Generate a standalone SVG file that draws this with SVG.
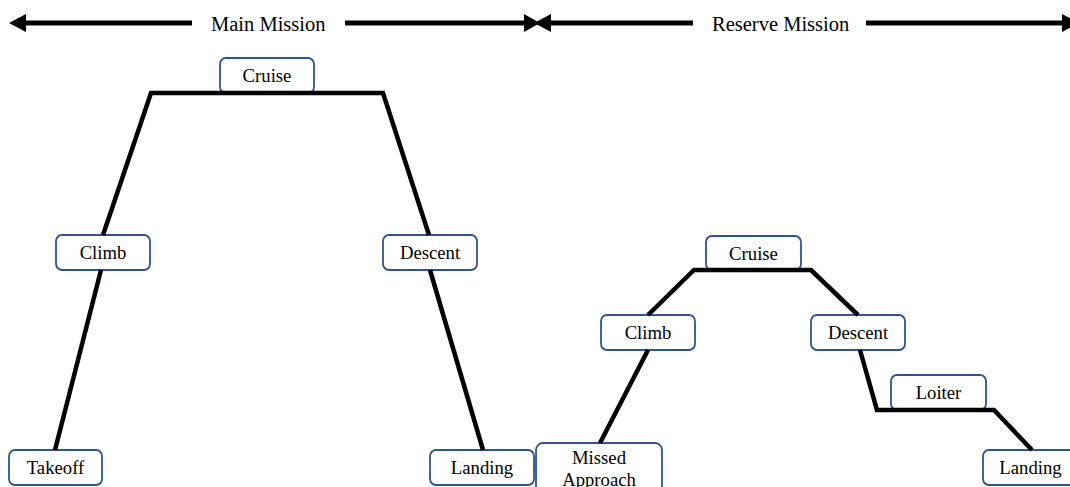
<svg xmlns="http://www.w3.org/2000/svg" width="1070" height="487" viewBox="0 0 1070 487">
<style>
.box{fill:#fff;stroke:#2F5496;stroke-width:1.8}
.lbl{font-family:"Liberation Serif","Times New Roman",serif;font-size:18.7px;fill:#000;text-anchor:middle}
.hdr{font-family:"Liberation Serif","Times New Roman",serif;font-size:20.5px;fill:#000}
.path{fill:none;stroke:#000;stroke-width:4.5;stroke-linejoin:miter}
.shaft{stroke:#000;stroke-width:5}
</style>
<rect width="1070" height="487" fill="#fff"/>
<g id="headers">
  <line class="shaft" x1="24" y1="23" x2="192" y2="23"/>
  <polygon points="9,23 26,14 26,32" fill="#000"/>
  <line class="shaft" x1="345" y1="23" x2="526" y2="23"/>
  <polygon points="540,23 524,14 524,32" fill="#000"/>
  <text class="hdr" x="211" y="31">Main Mission</text>
  <line class="shaft" x1="548" y1="23" x2="693" y2="23"/>
  <polygon points="534,23 551,14 551,32" fill="#000"/>
  <line class="shaft" x1="866" y1="23" x2="1064" y2="23"/>
  <polygon points="1079,23 1062,14 1062,32" fill="#000"/>
  <text class="hdr" x="712" y="31">Reserve Mission</text>
</g>
<g id="n-cruise-main"><rect class="box" x="220" y="58" width="94" height="35" rx="6"/><text class="lbl" x="267" y="82">Cruise</text></g>
<g id="n-climb-main"><rect class="box" x="56" y="235" width="94" height="35" rx="6"/><text class="lbl" x="103" y="259">Climb</text></g>
<g id="n-descent-main"><rect class="box" x="383" y="235" width="94" height="35" rx="6"/><text class="lbl" x="430" y="259">Descent</text></g>
<g id="n-takeoff"><rect class="box" x="9" y="450" width="93" height="35" rx="6"/><text class="lbl" x="55.5" y="474">Takeoff</text></g>
<g id="n-landing-main"><rect class="box" x="430" y="450" width="104" height="35" rx="6"/><text class="lbl" x="482" y="474">Landing</text></g>
<g id="n-missed"><rect class="box" x="536" y="443" width="126" height="56" rx="7"/><text class="lbl" x="599" y="464">Missed</text><text class="lbl" x="599" y="486">Approach</text></g>
<g id="n-cruise-res"><rect class="box" x="706" y="236" width="95" height="34" rx="6"/><text class="lbl" x="753.5" y="259.5">Cruise</text></g>
<g id="n-climb-res"><rect class="box" x="601" y="315" width="94" height="35" rx="6"/><text class="lbl" x="648" y="339">Climb</text></g>
<g id="n-descent-res"><rect class="box" x="811" y="315" width="94" height="35" rx="6"/><text class="lbl" x="858" y="339">Descent</text></g>
<g id="n-loiter"><rect class="box" x="891" y="375" width="95" height="35" rx="6"/><text class="lbl" x="938.5" y="399">Loiter</text></g>
<g id="n-landing-res"><rect class="box" x="983" y="450" width="95" height="35" rx="6"/><text class="lbl" x="1030.5" y="474">Landing</text></g>
<g id="connectors">
  <polyline class="path" points="103,235 151,93 383,93 429,235"/>
  <line class="path" x1="101" y1="270" x2="55" y2="450"/>
  <line class="path" x1="430" y1="270" x2="483" y2="450"/>
  <polyline class="path" points="648,315 694,270 811,270 858,315"/>
  <line class="path" x1="648" y1="350" x2="600" y2="443"/>
  <polyline class="path" points="860,350 877,410 994,410 1032,450"/>
</g>
</svg>
